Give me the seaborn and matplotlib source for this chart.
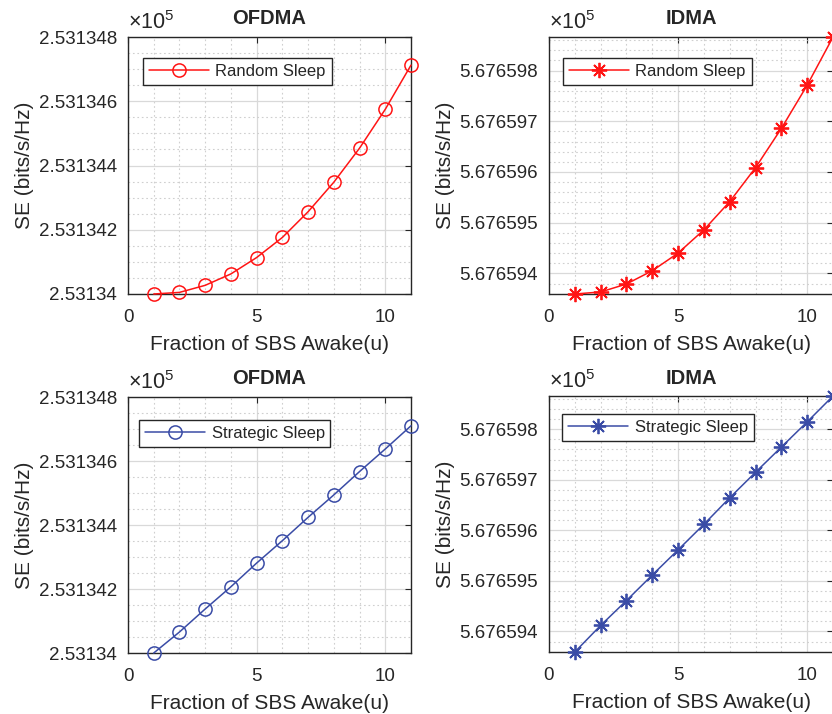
import numpy as np
import pandas as pd
import seaborn as sns
import matplotlib
matplotlib.use("Agg")
import matplotlib.pyplot as plt
from matplotlib.ticker import MultipleLocator, FuncFormatter

# ---- data (SE in bits/s/Hz) ----
u = [1, 2, 3, 4, 5, 6, 7, 8, 9, 10, 11]
ofdma_random = [253134.0000, 253134.0050, 253134.0270, 253134.0625, 253134.1135, 253134.1760,
                253134.2560, 253134.3480, 253134.4540, 253134.5750, 253134.7125]
idma_random = [567659.3593, 567659.3633, 567659.3790, 567659.4052, 567659.4400, 567659.4859,
               567659.5416, 567659.6085, 567659.6859, 567659.7711, 567659.8662]
ofdma_strategic = [253134.0000, 253134.0656, 253134.1375, 253134.2070, 253134.2810, 253134.3510,
                   253134.4240, 253134.4940, 253134.5670, 253134.6375, 253134.7100]
idma_strategic = [567659.3593, 567659.4118, 567659.4610, 567659.5115, 567659.5613, 567659.6118,
                  567659.6643, 567659.7148, 567659.7646, 567659.8144, 567659.8656]
titles = ["OFDMA", "IDMA", "OFDMA", "IDMA"]
labels = ["Random Sleep", "Random Sleep", "Strategic Sleep", "Strategic Sleep"]
xticks = [0, 5, 10]

sns.set_style("white")
plt.rcParams['font.family'] = ['Liberation Sans', 'DejaVu Sans']
plt.rcParams['mathtext.fontset'] = 'custom'
plt.rcParams['mathtext.rm'] = 'Liberation Sans'
plt.rcParams['mathtext.default'] = 'regular'

RED = '#ff1414'
BLUE = '#3a4ca6'
ast = (8, 2, 0)

fig = plt.figure(figsize=(8.32, 7.14), dpi=100)
W, H = 832, 714

def make_ax(l, r, t, b):
    return fig.add_axes([l / W, 1 - b / H, (r - l) / W, (b - t) / H])

specs = [
    dict(box=(128, 411, 37, 294), y=ofdma_random, color=RED, marker='o', ylim=(253134.0, 253134.8),
         major=0.2, minor=0.05, leg=(0.053, 0.918)),
    dict(box=(549, 833, 37, 294), y=idma_random, color=RED, marker=ast, ylim=(min(idma_random), max(idma_random)),
         major=0.1, minor=0.02, leg=(0.049, 0.918)),
    dict(box=(128, 411, 397, 653), y=ofdma_strategic, color=BLUE, marker='o', ylim=(253134.0, 253134.8),
         major=0.2, minor=0.05, leg=(0.039, 0.91)),
    dict(box=(549, 833, 396, 652), y=idma_strategic, color=BLUE, marker=ast, ylim=(min(idma_strategic), max(idma_strategic)),
         major=0.1, minor=0.02, leg=(0.046, 0.93)),
]

fmt = FuncFormatter(lambda v, p: '%.7g' % (v / 1e5))

for i, s in enumerate(specs):
    ax = make_ax(*s['box'])
    df = pd.DataFrame({'u': u, 'SE': s['y']})
    mk = dict(marker=s['marker'], markeredgecolor=s['color'], markerfacecolor='none')
    if s['marker'] == 'o':
        mk['markersize'] = 9.5
        mk['markeredgewidth'] = 1.1
    else:
        mk['markersize'] = 11
        mk['markeredgewidth'] = 1.3
    sns.lineplot(data=df, x='u', y='SE', color=s['color'], linewidth=1.1, ax=ax,
                 label=labels[i], clip_on=False, zorder=5, **mk)
    ax.set_xlim(0, 11)
    ax.set_ylim(*s['ylim'])
    ax.set_xticks(xticks)
    ax.xaxis.set_minor_locator(MultipleLocator(1))
    ax.yaxis.set_major_locator(MultipleLocator(s['major']))
    ax.yaxis.set_minor_locator(MultipleLocator(s['minor']))
    ax.yaxis.set_major_formatter(fmt)
    ax.grid(which='major', color='#d9d9d9', linewidth=0.9, linestyle='-')
    ax.grid(which='minor', color='#cfcfcf', linewidth=0.8, linestyle=(0, (1.5, 2.5)))
    ax.set_axisbelow(True)
    ax.tick_params(which='major', direction='in', length=4, width=0.8, labelsize=13.5,
                   top=True, right=True, pad=8, colors='#262626')
    ax.tick_params(axis='x', which='major', pad=11)
    ax.tick_params(which='minor', length=0)
    for sp in ax.spines.values():
        sp.set_color('#262626')
        sp.set_linewidth(1.0)
        sp.set_visible(True)
    ax.set_xlabel('Fraction of SBS Awake(u)', fontsize=15, color='#262626', labelpad=6)
    ax.set_ylabel('SE (bits/s/Hz)', fontsize=15, color='#262626', labelpad=3)
    ax.set_title(titles[i], fontsize=14.5, fontweight='bold', pad=9)
    ax.text(0.0, 1.012, r'$\times10^{5}$', transform=ax.transAxes, fontsize=15.5,
            ha='left', va='bottom', color='#262626')
    leg = ax.legend(loc='upper left', bbox_to_anchor=s['leg'], borderaxespad=0, fontsize=12,
                    handlelength=3.6, fancybox=False, framealpha=1, edgecolor='#262626',
                    borderpad=0.35, handletextpad=0.4)
    leg.get_frame().set_linewidth(1.0)

fig.savefig('out.png', dpi=100)
